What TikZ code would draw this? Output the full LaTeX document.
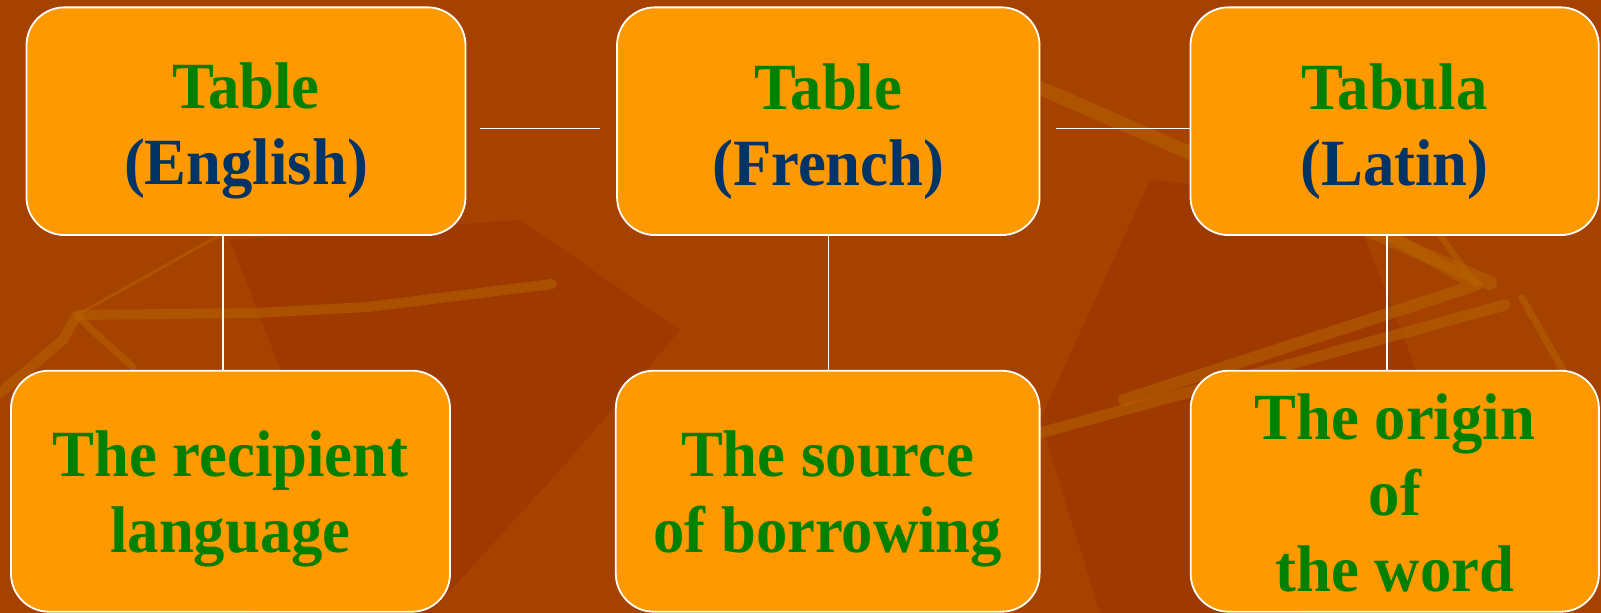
\documentclass[tikz,border=0pt]{standalone}
\usepackage{fontspec}
\usepackage{tikz}
\usetikzlibrary{arrows.meta,calc,positioning}
\newfontfamily\cellfont{Liberation Serif}[FakeStretch=0.95]
\definecolor{RustBase}{RGB}{166,66,0}
\definecolor{RustDark}{RGB}{153,50,0}
\definecolor{RustLight}{RGB}{182,98,0}
\definecolor{BoxOrange}{RGB}{255,153,0}
\definecolor{WordGreen}{RGB}{0,128,0}
\definecolor{LangBlue}{RGB}{0,51,102}

\begin{document}
\begin{tikzpicture}[x=1pt,y=-1pt,
  cell/.style={draw=white,line width=1.8pt,fill=BoxOrange,rounded corners=38pt,inner sep=0pt},
  top/.style={cell,minimum height=227.7pt},
  low/.style={cell,minimum height=241pt},
  word/.style={font=\cellfont\bfseries\fontsize{66}{76}\selectfont,align=center,text=WordGreen,inner sep=0pt},
  link/.style={draw=white,line width=1.3pt},
  twig/.style={RustLight,line cap=round,line join=round,opacity=0.55}]
      \useasboundingbox (0,0) rectangle (1601,613);
      % background
      \fill[RustBase] (0,0) rectangle (1601,613);
      \fill[RustDark,opacity=0.55] (230,240) -- (520,220) -- (680,330) -- (560,470)
        -- (430,613) -- (250,613) -- (300,420) -- cycle;
      \fill[RustDark,opacity=0.55] (1150,180) -- (1350,200) -- (1420,380) -- (1300,613)
        -- (1100,613) -- (1040,420) -- cycle;
      \draw[twig,line width=10pt] (0,393) -- (63,340) -- (77,315) -- (255,313)
        -- (368,307) -- (552,284);
      \draw[twig,line width=7pt] (77,315) -- (92,330) -- (133,367);
      \draw[twig,line width=3pt] (77,315) -- (220,235);
      \draw[twig,line width=12pt] (1124,400) -- (1476,285) -- (1389,235);
      \draw[twig,line width=6pt] (1476,285) -- (1440,235);
      \draw[twig,line width=7pt] (1522,298) -- (1563,370);
      \draw[twig,line width=14pt] (1040,88) -- (1490,283);
      \draw[twig,line width=11pt] (1040,433) -- (1505,305);
      % boxes
      \node[top,minimum width=439pt] (eng) at (246,121.2) {};
      \node[top,minimum width=422.5pt] (fre) at (828.3,121.2) {};
      \node[top,minimum width=408.2pt] (lat) at (1394.6,121.2) {};
      \node[low,minimum width=439pt] (rec) at (230.5,491.2) {};
      \node[low,minimum width=423.8pt] (src) at (827.7,491.2) {};
      \node[low,minimum width=408.3pt] (org) at (1394.8,491.2) {};
      % texts
      \node[word,yshift=-10pt] (eng-t) at (eng.center) {Table\\\textcolor{LangBlue}{(English)}};
      \node[word,yshift=-10pt] (fre-t) at (fre.center) {Table\\\textcolor{LangBlue}{(French)}};
      \node[word,yshift=-10pt] (lat-t) at (lat.center) {Tabula\\\textcolor{LangBlue}{(Latin)}};
      \node[word,yshift=-8pt] (rec-t) at (rec.center) {The recipient\\language};
      \node[word,yshift=-8pt] (src-t) at (src.center) {The source\\of borrowing};
      \node[word,yshift=-2pt] (org-t) at (org.center) {The origin\\of\\the word};
      % connectors
      \draw[link,shorten <=14pt,shorten >=16pt] ([yshift=-7pt]eng.east) -- ([yshift=-7pt]fre.west);
      \draw[link,shorten <=16pt] ([yshift=-7pt]fre.east) -- ([yshift=-7pt]lat.west);
      \draw[link] ([xshift=-23pt]eng.south) -- ([xshift=-23pt]eng.south |- rec.north);
      \draw[link] (fre.south) -- (fre.south |- src.north);
      \draw[link] ([xshift=-7.5pt]lat.south) -- ([xshift=-7.5pt]lat.south |- org.north);
    \end{tikzpicture}
\end{document}
